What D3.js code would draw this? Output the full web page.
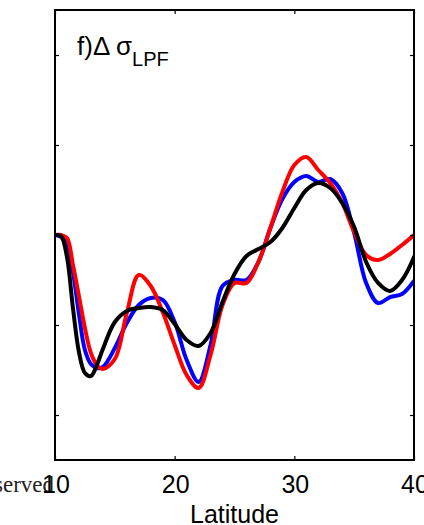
<!DOCTYPE html>
<html><head><meta charset="utf-8">
<script src="https://cdn.jsdelivr.net/npm/d3@7"></script>
<style>html,body{margin:0;padding:0;background:#fff;overflow:hidden}</style>
</head><body><svg id="c" width="424" height="525"></svg>
<script>
const latitudes = [10,10.5,11,11.5,12,12.5,13,13.5,14,15,16,17,18,19,20,21,22,23,24,25,26,27,28,29,30,31,32,33,34,35,36,37,38,39,40];
const blueSeries = [0,-0.022,-0.111,-0.411,-0.878,-1.278,-1.433,-1.478,-1.467,-1.256,-0.978,-0.778,-0.700,-0.722,-0.967,-1.389,-1.633,-1.222,-0.567,-0.500,-0.500,-0.300,0.078,0.400,0.589,0.656,0.589,0.622,0.467,0.022,-0.533,-0.756,-0.689,-0.656,-0.511];
const redSeries = [0,0,-0.033,-0.333,-0.678,-1.033,-1.311,-1.444,-1.489,-1.378,-0.867,-0.444,-0.567,-0.856,-1.222,-1.556,-1.700,-1.333,-0.778,-0.533,-0.533,-0.300,0.078,0.478,0.778,0.867,0.722,0.578,0.356,0.033,-0.222,-0.278,-0.211,-0.111,0];
const blackSeries = [0,-0.011,-0.244,-0.811,-1.300,-1.533,-1.567,-1.444,-1.267,-0.967,-0.844,-0.811,-0.800,-0.833,-0.989,-1.167,-1.233,-1.089,-0.744,-0.433,-0.233,-0.156,-0.078,0.078,0.300,0.500,0.578,0.522,0.356,0.089,-0.300,-0.533,-0.622,-0.500,-0.244];
const xTicks = [10,20,30,40];
const yTicks = [-2,-1,0,1,2];
const seriesColors = ["#0000ff","#ff0000","#000000"];

const svg = d3.select("#c");
const L = 55, R = 414, T = 10, B = 460;
const x = d3.scaleLinear().domain([10,40]).range([L,R]);
const y = d3.scaleLinear().domain([-2.5,2.5]).range([B,T]);

// legend remnant (clipped)
svg.append("text").attr("x",54).attr("y",492).attr("text-anchor","end")
  .attr("font-family","Liberation Serif").attr("font-size",23).attr("fill","#222").text("Observed");

svg.append("clipPath").attr("id","clip").append("rect")
  .attr("x",L).attr("y",T).attr("width",R-L).attr("height",B-T);

const line = d3.line().x((d,i)=>x(latitudes[i])).y(d=>y(d)).curve(d3.curveCatmullRom.alpha(0.5));
const g = svg.append("g").attr("clip-path","url(#clip)");
[blueSeries, redSeries, blackSeries].forEach((s,k)=>{
  g.append("path").attr("d",line(s)).attr("fill","none")
   .attr("stroke",seriesColors[k]).attr("stroke-width",4)
   .attr("stroke-linejoin","round").attr("stroke-linecap","round");
});

// axes with inward ticks
const tl = 4;
const ax = svg.append("g");
ax.append("g").attr("transform",`translate(0,${B})`).call(d3.axisBottom(x).tickValues(xTicks).tickSize(-tl).tickFormat(""));
ax.append("g").attr("transform",`translate(0,${T})`).call(d3.axisTop(x).tickValues(xTicks).tickSize(-tl).tickFormat(""));
ax.append("g").attr("transform",`translate(${L},0)`).call(d3.axisLeft(y).tickValues(yTicks).tickSize(-tl).tickFormat(""));
ax.append("g").attr("transform",`translate(${R},0)`).call(d3.axisRight(y).tickValues(yTicks).tickSize(-tl).tickFormat(""));
ax.selectAll(".domain").remove();
ax.selectAll(".tick line").attr("stroke","#000").attr("stroke-width",1.2);
svg.append("rect").attr("x",L).attr("y",T).attr("width",R-L).attr("height",B-T)
  .attr("fill","none").attr("stroke","#000").attr("stroke-width",2);

// tick labels
svg.append("g").selectAll("text").data(xTicks).join("text")
  .attr("x",d=>x(d)+1).attr("y",493).attr("text-anchor","middle")
  .attr("font-family","Liberation Sans").attr("font-size",25).attr("fill","#000").text(d=>d);

svg.append("text").attr("x",(L+R)/2).attr("y",523).attr("text-anchor","middle")
  .attr("font-family","Liberation Sans").attr("font-size",25).attr("fill","#000").text("Latitude");

const t = svg.append("text").attr("x",77).attr("y",55)
  .attr("font-family","Liberation Sans").attr("font-size",26).attr("fill","#000");
t.append("tspan").text("f)Δ σ");
t.append("tspan").attr("font-size",20).attr("dy",11).text("LPF");
</script></body></html>
